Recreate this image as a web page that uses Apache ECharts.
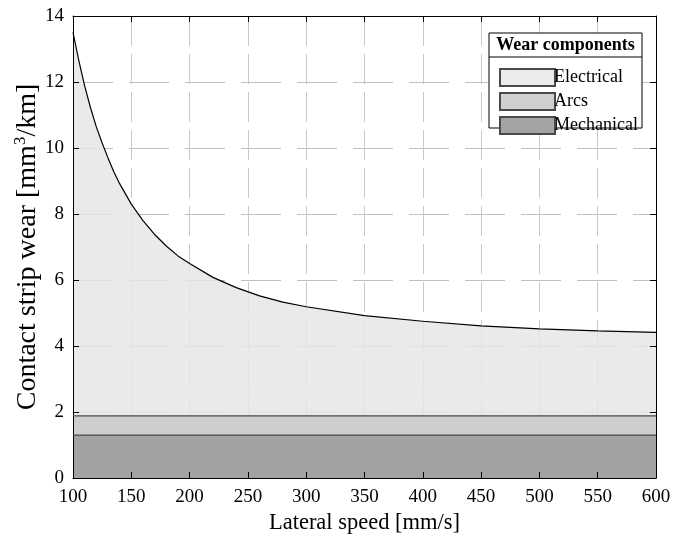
<!DOCTYPE html>
<html>
<head>
<meta charset="utf-8">
<script src="https://cdn.jsdelivr.net/npm/echarts@6/dist/echarts.min.js"></script>
<style>
  html, body { margin: 0; padding: 0; background: #fff; }
  #chart { width: 686px; height: 534px; }
</style>
</head>
<body>
<div id="chart"></div>
<script>
// lateral speed samples [mm/s]
const speeds = [100, 105, 110, 115, 120, 125, 130, 135, 140, 150, 160, 170, 180, 190, 200, 220, 240, 260, 280, 300, 350, 400, 450, 500, 550, 600];
// wear components [mm3/km]
const mechanical = [1.30, 1.30, 1.30, 1.30, 1.30, 1.30, 1.30, 1.30, 1.30, 1.30, 1.30, 1.30, 1.30, 1.30, 1.30, 1.30, 1.30, 1.30, 1.30, 1.30, 1.30, 1.30, 1.30, 1.30, 1.30, 1.30];
const arcs = [0.58, 0.58, 0.58, 0.58, 0.58, 0.58, 0.58, 0.58, 0.58, 0.58, 0.58, 0.58, 0.58, 0.58, 0.58, 0.58, 0.58, 0.58, 0.58, 0.58, 0.58, 0.58, 0.58, 0.58, 0.58, 0.58];
const electrical = [11.62, 10.77, 10.00, 9.34, 8.76, 8.27, 7.82, 7.40, 7.04, 6.42, 5.92, 5.50, 5.15, 4.85, 4.62, 4.20, 3.89, 3.64, 3.45, 3.31, 3.04, 2.87, 2.73, 2.64, 2.58, 2.53];
const legendNames = ['Electrical', 'Arcs', 'Mechanical'];

const font = 'Liberation Serif, Times New Roman, serif';

// stacked tops, drawn back to front (total first, mechanical last)
const arcsTop = speeds.map((s, i) => [s, +(mechanical[i] + arcs[i]).toFixed(3)]);
const totalTop = speeds.map((s, i) => [s, +(mechanical[i] + arcs[i] + electrical[i]).toFixed(3)]);
const mechTop = speeds.map((s, i) => [s, mechanical[i]]);

const chart = echarts.init(document.getElementById('chart'));

const baseX = {
  type: 'value', min: 100, max: 600, interval: 50,
  axisLine: { show: true, onZero: false, lineStyle: { color: '#000', width: 1 } },
  axisTick: { show: true, inside: true, length: 6, lineStyle: { color: '#000' } }
};
const baseY = {
  type: 'value', min: 0, max: 14, interval: 2,
  axisLine: { show: true, onZero: false, lineStyle: { color: '#000', width: 1 } },
  axisTick: { show: true, inside: true, length: 6, lineStyle: { color: '#000' } }
};

const option = {
  animation: false,
  backgroundColor: '#fff',
  grid: { left: 73, right: 30, top: 16, bottom: 56, outerBoundsMode: 'none', containLabel: false },
  xAxis: [
    Object.assign({}, baseX, {
      position: 'bottom', z: 3,
      name: 'Lateral speed [mm/s]', nameLocation: 'middle', nameGap: 28,
      nameTextStyle: { fontFamily: font, fontSize: 22.5, color: '#000' },
      axisLabel: { fontFamily: font, fontSize: 19, color: '#000', margin: 10 },
      splitLine: { show: true, lineStyle: { color: '#c8c8c8', width: 1, type: [30, 8] } }
    }),
    Object.assign({}, baseX, {
      position: 'top', z: 3, axisLabel: { show: false }, splitLine: { show: false }
    })
  ],
  yAxis: [
    Object.assign({}, baseY, {
      position: 'left', z: 3,
      name: 'Contact strip wear [mm{sup|3}/km]', nameLocation: 'middle', nameGap: 30,
      nameMoveOverlap: false,
      nameTextStyle: {
        fontFamily: font, fontSize: 28, color: '#000',
        rich: { sup: { fontFamily: font, fontSize: 17, color: '#000', verticalAlign: 'top', padding: [0, 0, 14, 0] } }
      },
      axisLabel: { fontFamily: font, fontSize: 19, color: '#000', margin: 9 },
      splitLine: { show: true, lineStyle: { color: '#c0c0c0', width: 1, type: [40, 16] } }
    }),
    Object.assign({}, baseY, {
      position: 'right', z: 3, axisLabel: { show: false }, splitLine: { show: false }
    })
  ],
  legend: {
    data: legendNames,
    orient: 'vertical',
    left: 494, top: 63, z: 20,
    itemWidth: 55, itemHeight: 17, itemGap: 5,
    icon: 'rect',
    textStyle: { fontFamily: font, fontSize: 18, color: '#000', padding: [0, 0, 0, -6] }
  },
  graphic: [
    {
      type: 'rect', z: 10, silent: true,
      shape: { x: 489, y: 33, width: 153, height: 95 },
      style: { fill: '#fff', stroke: '#000', lineWidth: 1 }
    },
    {
      type: 'line', z: 11, silent: true,
      shape: { x1: 489, y1: 57, x2: 642, y2: 57 },
      style: { stroke: '#000', lineWidth: 1 }
    },
    {
      type: 'text', z: 11, silent: true,
      x: 565.5, y: 45,
      style: { text: 'Wear components', fontFamily: font, fontSize: 18, fontWeight: 'bold', fill: '#000', align: 'center', verticalAlign: 'middle' }
    }
  ],
  series: [
    {
      name: 'Electrical', type: 'line', data: totalTop,
      showSymbol: false, smooth: false,
      lineStyle: { color: '#000', width: 1.2 },
      itemStyle: { color: '#ebebeb', borderColor: '#4a4a4a', borderWidth: 1 },
      areaStyle: { color: '#e6e6e6', opacity: 0.85, origin: 'start' }
    },
    {
      name: 'Arcs', type: 'line', data: arcsTop,
      showSymbol: false,
      lineStyle: { color: '#4a4a4a', width: 1.2 },
      itemStyle: { color: '#d0d0d0', borderColor: '#4a4a4a', borderWidth: 1 },
      areaStyle: { color: '#cecece', opacity: 1, origin: 'start' }
    },
    {
      name: 'Mechanical', type: 'line', data: mechTop,
      showSymbol: false,
      lineStyle: { color: '#4a4a4a', width: 1.2 },
      itemStyle: { color: '#a4a4a4', borderColor: '#4a4a4a', borderWidth: 1 },
      areaStyle: { color: '#a2a2a2', opacity: 1, origin: 'start' }
    }
  ]
};

chart.setOption(option);
</script>
</body>
</html>
